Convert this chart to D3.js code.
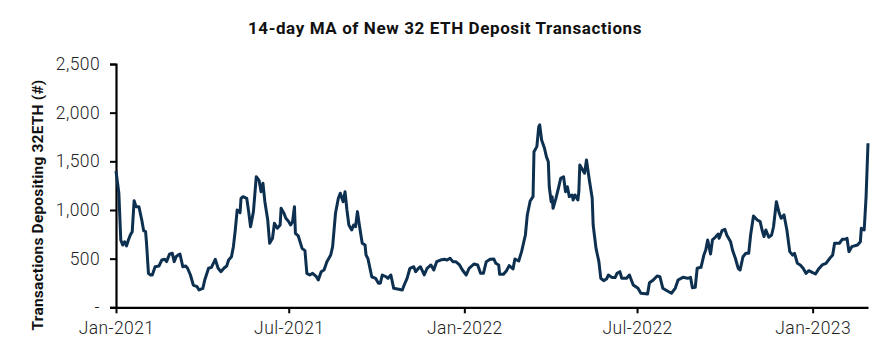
<!DOCTYPE html>
<html><head><meta charset="utf-8">
<script src="https://cdn.jsdelivr.net/npm/d3@7"></script>
<style>
body{margin:0;background:#fff;}
svg{display:block;font-family:Roboto,"Noto Sans",sans-serif;}
</style></head>
<body><svg id="c" width="891" height="356"></svg>
<script>
const title = "14-day MA of New 32 ETH Deposit Transactions";
const yLabel = "Transactions Depositing 32ETH (#)";
const xTickDates = ["2021-01-01","2021-07-01","2022-01-01","2022-07-01","2023-01-01"];
const yTicks = [0,500,1000,1500,2000,2500];
const dates = [
"2021-01-01","2021-01-04","2021-01-06","2021-01-08","2021-01-10","2021-01-12","2021-01-14","2021-01-16","2021-01-18","2021-01-20",
"2021-01-22","2021-01-25","2021-01-28","2021-01-30","2021-02-01","2021-02-02","2021-02-04","2021-02-06","2021-02-08","2021-02-11",
"2021-02-15","2021-02-18","2021-02-21","2021-02-23","2021-02-26","2021-03-01","2021-03-03","2021-03-05","2021-03-07","2021-03-09",
"2021-03-12","2021-03-15","2021-03-17","2021-03-20","2021-03-23","2021-03-27","2021-03-29","2021-04-02","2021-04-04","2021-04-08",
"2021-04-11","2021-04-13","2021-04-15","2021-04-18","2021-04-21","2021-04-24","2021-04-27","2021-04-29","2021-05-02","2021-05-04",
"2021-05-06","2021-05-08","2021-05-11","2021-05-12","2021-05-14","2021-05-18","2021-05-20","2021-05-22","2021-05-25","2021-05-28",
"2021-05-31","2021-06-02","2021-06-04","2021-06-06","2021-06-09","2021-06-11","2021-06-14","2021-06-16","2021-06-19","2021-06-22",
"2021-06-23","2021-06-26","2021-06-28","2021-07-01","2021-07-03","2021-07-05","2021-07-07","2021-07-08","2021-07-11","2021-07-15",
"2021-07-18","2021-07-20","2021-07-23","2021-07-26","2021-07-30","2021-08-01","2021-08-04","2021-08-07","2021-08-10","2021-08-14",
"2021-08-16","2021-08-19","2021-08-22","2021-08-24","2021-08-27","2021-08-29","2021-08-31","2021-09-02","2021-09-05","2021-09-07",
"2021-09-09","2021-09-11","2021-09-13","2021-09-16","2021-09-19","2021-09-20","2021-09-22","2021-09-26","2021-09-30","2021-10-03",
"2021-10-05","2021-10-07","2021-10-11","2021-10-13","2021-10-16","2021-10-19","2021-10-23","2021-10-28","2021-10-30","2021-11-02",
"2021-11-05","2021-11-09","2021-11-11","2021-11-14","2021-11-16","2021-11-20","2021-11-23","2021-11-27","2021-11-30","2021-12-03",
"2021-12-07","2021-12-11","2021-12-14","2021-12-17","2021-12-20","2021-12-23","2021-12-27","2021-12-30","2022-01-03","2022-01-06",
"2022-01-11","2022-01-15","2022-01-18","2022-01-21","2022-01-24","2022-01-28","2022-02-01","2022-02-03","2022-02-06","2022-02-07",
"2022-02-11","2022-02-14","2022-02-17","2022-02-21","2022-02-23","2022-02-27","2022-03-02","2022-03-06","2022-03-08","2022-03-11",
"2022-03-14","2022-03-15","2022-03-18","2022-03-20","2022-03-21","2022-03-23","2022-03-26","2022-03-28","2022-03-30","2022-03-31",
"2022-04-02","2022-04-03","2022-04-04","2022-04-07","2022-04-10","2022-04-12","2022-04-15","2022-04-17","2022-04-19","2022-04-21",
"2022-04-24","2022-04-25","2022-04-27","2022-04-30","2022-05-01","2022-05-02","2022-05-05","2022-05-07","2022-05-09","2022-05-12",
"2022-05-15","2022-05-16","2022-05-19","2022-05-22","2022-05-24","2022-05-27","2022-05-30","2022-06-01","2022-06-05","2022-06-08",
"2022-06-10","2022-06-13","2022-06-15","2022-06-20","2022-06-23","2022-06-27","2022-07-02","2022-07-05","2022-07-12","2022-07-14",
"2022-07-18","2022-07-22","2022-07-25","2022-07-28","2022-07-31","2022-08-06","2022-08-10","2022-08-13","2022-08-18","2022-08-23",
"2022-08-26","2022-08-28","2022-08-31","2022-09-02","2022-09-06","2022-09-09","2022-09-11","2022-09-13","2022-09-16","2022-09-18",
"2022-09-21","2022-09-24","2022-09-25","2022-09-28","2022-10-01","2022-10-03","2022-10-07","2022-10-09","2022-10-12","2022-10-15",
"2022-10-17","2022-10-20","2022-10-23","2022-10-26","2022-10-28","2022-10-31","2022-11-04","2022-11-07","2022-11-09","2022-11-11",
"2022-11-13","2022-11-16","2022-11-19","2022-11-21","2022-11-24","2022-11-27","2022-11-29","2022-12-02","2022-12-05","2022-12-08",
"2022-12-11","2022-12-13","2022-12-16","2022-12-19","2022-12-22","2022-12-25","2022-12-28","2023-01-01","2023-01-04","2023-01-07",
"2023-01-11","2023-01-15","2023-01-19","2023-01-22","2023-01-24","2023-01-29","2023-02-01","2023-02-04","2023-02-06","2023-02-08",
"2023-02-11","2023-02-17","2023-02-20","2023-02-21","2023-02-24","2023-02-26","2023-02-28"
];
const deposits = [
1400,1172,692,640,674,630,692,743,777,1096,
1034,1034,897,787,777,658,349,332,332,417,
424,486,493,469,545,555,469,520,537,548,
417,424,401,332,229,212,178,195,281,401,
411,452,493,401,366,401,424,486,520,623,
794,1000,972,1120,1137,1120,983,828,983,1342,
1301,1188,1274,1085,897,658,709,863,812,846,
1017,966,915,880,846,880,1034,760,733,606,
582,349,332,349,314,281,366,383,469,537,
623,966,1120,1172,1085,1188,1000,846,794,846,
828,983,846,658,640,537,500,314,298,247,
247,332,314,298,332,195,188,178,229,298,
401,417,366,401,417,332,401,435,383,469,
486,493,486,504,469,469,435,383,332,401,
445,435,349,349,469,493,496,452,435,339,
339,373,428,394,496,476,572,743,949,1092,
1137,1599,1651,1856,1874,1719,1634,1548,1496,1239,
1085,1137,1017,1120,1239,1326,1342,1188,1239,1137,
1154,1103,1154,1103,1188,1462,1411,1377,1514,1308,
1120,846,606,469,298,274,291,332,305,305,
349,366,298,298,332,229,195,144,137,253,
281,322,314,195,178,144,195,281,308,298,
308,202,206,401,411,537,589,692,548,692,
720,753,709,787,801,743,674,589,504,401,
383,520,555,555,743,938,897,880,794,726,
794,720,743,828,1085,966,915,949,794,572,
537,555,452,435,401,349,376,356,342,390,
435,452,504,537,658,658,699,699,709,572,
623,640,674,812,794,1137,1685
];

const parse = d3.timeParse("%Y-%m-%d");
const data = dates.map((d,i)=>({date:parse(d), value:deposits[i]}));
const svg = d3.select("#c");
const x = d3.scaleTime().domain([parse("2021-01-01"), parse("2023-02-28")]).range([116, 868]);
const y = d3.scaleLinear().domain([0,2500]).range([307.3, 64]);

svg.append("text").attr("x",445).attr("y",34).attr("text-anchor","middle")
  .attr("font-size",17).attr("font-weight",700).attr("letter-spacing",0.6).attr("fill","#111").text(title);

const fmtY = v => v===0 ? "-" : d3.format(",")(v);
const ya = svg.append("g").attr("transform","translate(116,0)")
  .call(d3.axisLeft(y).tickValues(yTicks).tickFormat(fmtY).tickSize(6).tickPadding(10));
ya.select(".domain").attr("stroke","#000").attr("stroke-width",2.2);
ya.selectAll(".tick line").attr("stroke","#000").attr("stroke-width",2);
ya.selectAll(".tick text").attr("font-size",17.5).attr("fill","#222").attr("font-family","Roboto,sans-serif").attr("font-weight",300).attr("letter-spacing",0.4);

const xa = svg.append("g").attr("transform","translate(0,307.3)")
  .call(d3.axisBottom(x).tickValues(xTickDates.map(parse)).tickFormat(d3.timeFormat("%b-%Y")).tickSizeInner(6).tickSizeOuter(0).tickPadding(8));
xa.select(".domain").attr("stroke","#000").attr("stroke-width",2.2);
xa.selectAll(".tick line").attr("stroke","#000").attr("stroke-width",2);
xa.selectAll(".tick text").attr("font-size",17.5).attr("fill","#222").attr("font-family","Roboto,sans-serif").attr("font-weight",300).attr("letter-spacing",0.4);

svg.append("text").attr("transform","translate(43,205) rotate(-90)").attr("text-anchor","middle")
  .attr("font-size",15.5).attr("font-weight",700).attr("letter-spacing",0.2).attr("fill","#111").text(yLabel);

svg.append("path").datum(data).attr("fill","none").attr("stroke","#0e3050").attr("stroke-width",3)
  .attr("stroke-linejoin","round")
  .attr("d", d3.line().x(d=>x(d.date)).y(d=>y(d.value)));
</script></body></html>
